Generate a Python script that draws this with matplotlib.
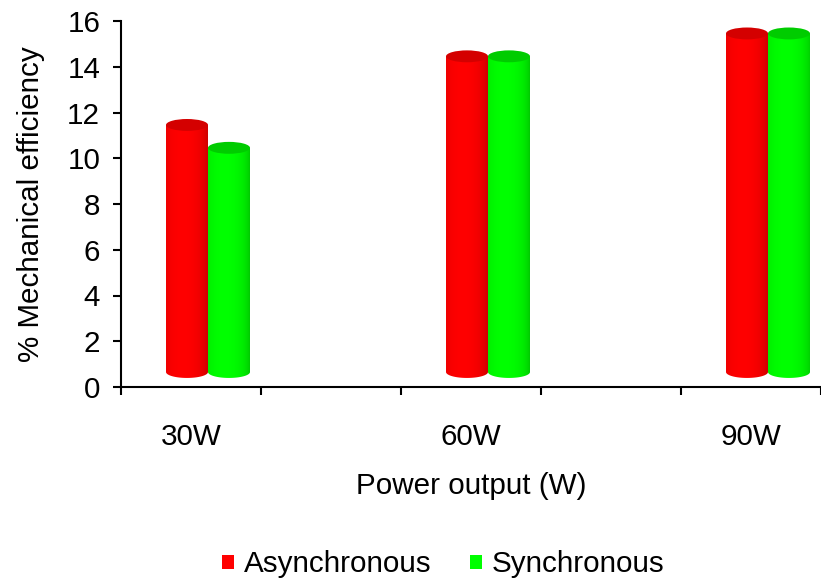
"""Eficiência mecânica por potência: barras cilíndricas estilo Excel 3D."""
import matplotlib
matplotlib.use("Agg")
import matplotlib.pyplot as plt
import matplotlib.transforms as mtransforms
from matplotlib.patches import Ellipse, PathPatch, Patch
from matplotlib.path import Path
import numpy as np

plt.rcParams["font.family"] = ["Liberation Sans", "DejaVu Sans"]

categories = ["30W", "60W", "90W"]
series_names = ["Asynchronous", "Synchronous"]
asynchronous = [10.8, 13.8, 14.8]
synchronous = [9.8, 13.8, 14.8]
y_ticks = [0, 2, 4, 6, 8, 10, 12, 14, 16]

# cores: (centro claro, borda escura, topo)
colors = {
    "Asynchronous": ("#ff0000", "#b80000", "#d40000"),
    "Synchronous": ("#00ff00", "#00b400", "#00cc00"),
}

FS = 21.3
fig = plt.figure(figsize=(8.21, 5.79), dpi=100)
ax = fig.add_axes([121 / 821, 192 / 579, 700 / 821, 366 / 579])

cat_x = np.arange(len(categories)) * 2.0
bar_w = 0.3
ell_h = 0.52          # altura da elipse em unidades de dado
depth = mtransforms.ScaledTranslation(17 / 100, 15 / 100, fig.dpi_scale_trans)
tr = ax.transData + depth


def gradient_row(light, dark, n=64):
    light = np.array(matplotlib.colors.to_rgb(light))
    dark = np.array(matplotlib.colors.to_rgb(dark))
    t = np.linspace(0, 1, n)
    w = np.clip(1 - ((t - 0.4) / 0.62) ** 2, 0, 1) ** 0.45
    return (dark[None, :] * (1 - w[:, None]) + light[None, :] * w[:, None])[None, :, :]


def cylinder(xc, value, name, z):
    light, dark, top = colors[name]
    x0, x1 = xc - bar_w / 2, xc + bar_w / 2
    th = np.linspace(np.pi, 2 * np.pi, 40)
    bottom = np.column_stack([xc + bar_w / 2 * np.cos(th), ell_h / 2 * np.sin(th)])
    verts = np.vstack([bottom, [[x1, value], [x0, value], [x0, 0]]])
    clip = PathPatch(Path(verts, closed=True), transform=tr,
                     facecolor="none", edgecolor="none", zorder=z)
    ax.add_patch(clip)
    im = ax.imshow(gradient_row(light, dark), extent=[x0, x1, -ell_h, value],
                   aspect="auto", transform=tr, zorder=z, interpolation="bilinear")
    im.set_clip_path(clip)
    ax.add_patch(Ellipse((xc, value), bar_w, ell_h, transform=tr,
                         facecolor=top, edgecolor="none", zorder=z + 0.1))


for i, xc in enumerate(cat_x):
    cylinder(xc - bar_w / 2, asynchronous[i], "Asynchronous", 3)
    cylinder(xc + bar_w / 2, synchronous[i], "Synchronous", 4)

ax.set_xlim(-0.5, 700 / 142.3 - 0.5)
ax.set_ylim(0, 16)
ax.set_yticks(y_ticks)
ax.set_xticks(np.arange(-0.5, 5, 1.0))
ax.set_xticklabels([])
ax.set_xticks(cat_x, minor=True)
ax.set_xticklabels(categories, minor=True)
ax.tick_params(axis="x", which="minor", length=0, pad=26, labelsize=FS)
ax.tick_params(axis="x", which="major", direction="out", length=6, width=1.5)
ax.tick_params(axis="y", direction="out", length=6, width=1.5, pad=9, labelsize=FS)

for side in ("top", "right"):
    ax.spines[side].set_visible(False)
for side in ("left", "bottom"):
    ax.spines[side].set_linewidth(1.5)

ax.set_ylabel("% Mechanical efficiency", fontsize=FS, labelpad=16)
ax.set_xlabel("Power output (W)", fontsize=FS, labelpad=15)

handles = [Patch(facecolor=colors[n][0], label=n) for n in series_names]
fig.legend(handles=handles, loc="lower center", bbox_to_anchor=(0.54, -0.045),
           ncol=2, frameon=False, fontsize=FS, handlelength=0.4,
           handleheight=0.33, handletextpad=0.35, columnspacing=1.3)

fig.savefig("out.png", dpi=100)
plt.close(fig)
